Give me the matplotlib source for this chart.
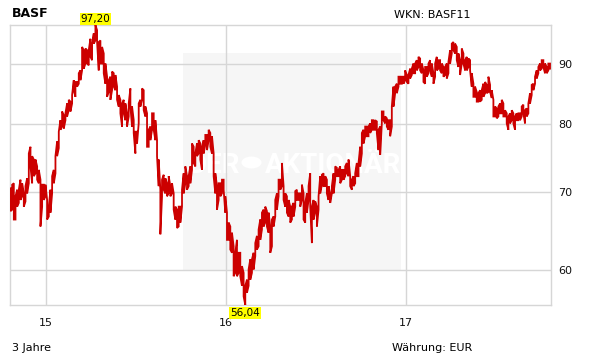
import matplotlib
matplotlib.use("Agg")
import matplotlib.pyplot as plt
from matplotlib.ticker import FixedLocator, FixedFormatter, NullLocator
from matplotlib.patches import Rectangle, Circle
import pandas as pd

# ---------------- data ----------------
title = "BASF"
wkn = "WKN: BASF11"
period_label = "3 Jahre"
currency_label = "Währung: EUR"
start_date = "2014-10-21"
end_date = "2017-10-21"

year_ticks = ["2015-01-01", "2016-01-01", "2017-01-01"]
year_labels = ["15", "16", "17"]
price_ticks = [60, 70, 80, 90]
price_labels = ["60", "70", "80", "90"]

high = [
    70.5, 71.0, 71.2, 69.4, 70.3, 70.3, 71.7, 71.2, 69.8, 70.8,
    71.9, 75.5, 76.5, 75.1, 74.6, 74.6, 73.6, 73.1, 71.7, 71.0,
    71.0, 71.0, 68.9, 68.0, 70.3, 72.2, 73.1, 75.1, 77.3, 78.8,
    80.6, 82.0, 81.4, 81.7, 83.3, 83.9, 83.6, 84.7, 87.2, 86.9,
    86.9, 88.4, 88.9, 93.1, 92.5, 92.8, 92.5, 92.5, 94.6, 93.7,
    95.6, 97.2, 96.2, 94.0,
    94.3, 93.1, 91.9, 90.1, 87.8, 87.2, 87.8, 88.7, 88.4, 88.1,
    86.1, 84.7, 83.9, 83.3, 83.9, 83.3, 81.7, 83.3, 85.8, 82.8,
    80.6, 78.8, 78.8, 83.3, 83.9, 85.8, 85.5, 82.8, 81.7, 79.1,
    79.6, 81.7, 81.7, 80.6, 77.5, 74.6, 70.3, 71.7, 72.4, 71.9,
    71.2, 72.2, 70.8, 71.2, 69.8, 68.0, 67.6, 68.0, 68.0, 70.3,
    72.6, 73.6, 72.2, 72.2, 73.6, 77.0, 76.5, 75.5, 77.0, 77.5,
    77.0, 76.5, 77.5, 78.3, 78.3, 79.1, 78.6, 78.1, 75.5, 72.6,
    70.8, 71.2, 71.2, 71.7, 71.7, 69.4, 67.2, 65.9, 65.4, 64.6,
    62.9, 62.1, 63.7, 62.1, 62.1, 60.5, 59.7, 58.2, 58.9, 60.1,
    61.3, 61.3, 62.1, 63.3, 64.2, 65.0, 66.3, 67.2, 67.6, 68.0,
    67.4, 67.2, 65.4, 66.3, 66.7, 68.9, 69.8, 71.7, 71.7, 74.1,
    70.8, 69.8, 69.4, 68.9,
    68.0, 68.0, 68.5, 70.1, 70.3, 69.8, 69.8, 71.0, 69.8, 68.5,
    69.8, 70.8, 72.6, 68.0, 68.9, 68.7, 68.0, 69.4, 72.2, 72.4,
    72.6, 72.2, 71.7, 70.8, 69.8, 70.8, 72.6, 73.6, 73.4, 73.1,
    73.6, 73.1, 73.1, 73.6, 74.1, 74.6, 72.2, 71.7, 72.2, 72.6,
    74.1, 74.1, 76.5, 78.6, 79.1, 79.6, 79.6, 79.6, 80.1, 80.6,
    80.6, 80.6, 80.4, 79.1,
    79.6, 82.0, 82.0, 81.2, 80.9, 80.6, 80.6, 82.8, 86.1, 86.1,
    86.6, 87.8, 87.8, 87.8, 87.8, 88.9, 88.1, 88.1, 89.2, 89.2,
    90.1, 90.1, 90.7, 91.3, 91.0, 90.1, 88.9, 89.5, 89.5, 90.1,
    90.7, 90.1, 88.4, 90.1, 91.3, 90.7, 90.7, 90.1, 89.5, 89.5,
    90.1, 90.4, 92.5, 93.7, 94.0, 93.7, 93.1, 91.9, 90.7,
    92.8, 91.9, 90.7, 91.3, 91.0, 90.7, 88.4, 86.6, 86.1, 85.2,
    85.0, 85.5, 85.5, 86.6, 86.9, 86.4, 87.8, 86.4, 85.5, 83.9,
    82.8, 82.5, 82.8, 83.3, 83.9, 83.3, 82.2, 81.7, 81.2, 81.7,
    82.2, 81.7, 81.2, 81.7, 81.7, 81.7, 82.8, 83.1, 82.2, 82.5,
    83.3, 85.0, 86.4, 86.6, 87.8, 88.9, 89.5, 90.1, 90.7, 90.7,
    90.1, 89.5, 90.1, 90.1,
]

low = [
    67.4, 67.6, 66.3, 66.3, 68.0, 68.5, 68.9, 69.4, 68.0, 68.7,
    69.8, 71.2, 73.6, 71.2, 72.2, 72.6, 71.7, 71.2, 65.4, 68.0,
    68.9, 69.4, 66.3, 66.7, 67.2, 69.8, 71.2, 72.6, 75.1, 76.3,
    79.1, 79.6, 79.3, 80.6, 81.2, 82.2, 82.0, 83.3, 85.5, 84.4,
    86.1, 86.6, 87.2, 88.9, 89.2, 90.1, 90.1, 89.8, 91.3, 90.7,
    93.7, 94.3, 94.0, 88.9,
    90.1, 90.1, 88.4, 86.6, 84.4, 85.2, 83.9, 85.5, 86.1, 85.5,
    83.9, 82.8, 81.7, 79.6, 81.7, 80.6, 79.6, 81.2, 82.8, 79.6,
    78.6, 75.5, 77.0, 80.1, 82.8, 83.9, 82.2, 81.2, 76.5, 76.5,
    77.5, 79.1, 79.1, 77.5, 75.1, 70.8, 64.4, 69.4, 70.3, 69.8,
    69.4, 69.8, 69.4, 69.8, 67.6, 66.3, 65.2, 65.4, 65.9, 68.0,
    69.8, 71.2, 70.3, 70.8, 71.2, 73.1, 74.1, 73.6, 75.1, 75.5,
    74.6, 73.1, 75.5, 76.8, 76.0, 77.5, 76.5, 75.5, 72.2, 69.8,
    67.6, 68.9, 69.4, 69.8, 70.3, 67.2, 63.7, 63.7, 62.5, 62.1,
    59.3, 59.7, 59.3, 59.7, 59.3, 58.2, 57.0, 56.04, 57.4, 58.2,
    58.9, 59.7, 60.1, 61.7, 62.5, 62.9, 63.7, 65.0, 65.4, 65.9,
    65.4, 64.6, 62.1, 62.9, 65.4, 66.7, 67.6, 69.4, 70.3, 70.8,
    68.9, 68.0, 67.2, 66.7,
    65.9, 66.3, 66.7, 68.0, 68.9, 68.9, 68.0, 68.9, 66.3, 65.9,
    67.2, 68.9, 68.0, 63.3, 66.3, 67.2, 65.4, 67.6, 69.8, 71.0,
    70.8, 70.8, 69.8, 68.9, 68.5, 69.8, 69.8, 71.7, 72.2, 72.2,
    71.2, 71.7, 71.7, 72.2, 72.6, 72.2, 70.8, 70.3, 70.8, 71.2,
    72.2, 72.2, 73.6, 75.5, 77.0, 78.1, 78.1, 78.1, 78.6, 79.1,
    79.1, 79.1, 78.6, 76.0,
    75.3, 80.1, 80.6, 80.1, 79.6, 79.1, 78.1, 79.6, 82.8, 85.0,
    85.0, 86.1, 86.6, 86.6, 86.6, 87.2, 86.9, 86.6, 87.5, 88.1,
    88.4, 88.4, 88.9, 89.5, 88.9, 88.4, 86.9, 86.6, 87.8, 88.4,
    88.9, 87.8, 86.6, 87.8, 88.9, 89.2, 88.9, 88.4, 87.8, 88.1,
    87.5, 88.4, 90.1, 91.9, 92.5, 91.9, 90.7, 89.5, 88.1,
    90.1, 90.1, 88.9, 88.9, 89.5, 88.9, 86.1, 84.4, 84.4, 83.6,
    83.6, 83.6, 83.9, 84.4, 85.0, 85.0, 85.2, 85.2, 84.2, 81.2,
    81.2, 80.9, 81.2, 81.7, 81.7, 81.2, 81.2, 80.1, 79.1, 80.1,
    80.6, 80.1, 79.1, 80.6, 80.6, 80.6, 81.2, 81.7, 80.1, 81.2,
    81.7, 83.3, 84.7, 85.5, 86.6, 87.5, 88.4, 88.9, 89.2, 89.5,
    88.4, 88.4, 88.9, 89.2,
]

# ---------------- build series ----------------
dates = pd.date_range(start_date, end_date, periods=len(high))
xs, ys = [], []
for i, (d, h, l) in enumerate(zip(dates, high, low)):
    xs += [d, d]
    ys += [h, l] if i % 2 == 0 else [l, h]

peak_i = max(range(len(high)), key=lambda k: high[k])
low_i = min(range(len(low)), key=lambda k: low[k])
peak_val = high[peak_i]
min_val = low[low_i]

# ---------------- figure ----------------
W, H = 611, 364
fig = plt.figure(figsize=(W / 100, H / 100), dpi=100)
fig.patch.set_facecolor("white")

def fx(px):
    return px / W

def fy(py):
    return 1 - py / H

L, R, T, B = 10, 551, 25, 305
ax = fig.add_axes([fx(L), fy(B), (R - L) / W, (B - T) / H])
ax.set_facecolor("none")

grid_c = "#d6d6d6"
ax.set_yscale("log")
ax.set_ylim(min_val, peak_val)
ax.set_xlim(dates[0] - pd.Timedelta(days=1), dates[-1] + pd.Timedelta(days=2))

# watermark background
wm = Rectangle((fx(183), fy(270)), (401 - 183) / W, (270 - 53) / H,
               transform=fig.transFigure, facecolor="#f6f6f6",
               edgecolor="none", zorder=0.1)
ax.add_patch(wm)
wm_font = ["Liberation Sans Narrow", "Roboto", "DejaVu Sans"]
ax.text(fx(240), fy(173), "DER", transform=fig.transFigure, ha="right",
        va="baseline", color="white", fontsize=20, fontweight="bold",
        family=wm_font, zorder=0.3)
ax.text(fx(265), fy(173), "AKTIONÄR", transform=fig.transFigure, ha="left",
        va="baseline", color="white", fontsize=20, fontweight="bold",
        family=wm_font, zorder=0.3)
ax.add_patch(Circle((fx(251.5), fy(162.5)), 10 / W, transform=fig.transFigure,
                    facecolor="white", edgecolor="none", zorder=0.3))

# grid and ticks
ax.set_axisbelow(True)
ax.yaxis.set_major_locator(FixedLocator(price_ticks))
ax.yaxis.set_major_formatter(FixedFormatter(price_labels))
ax.yaxis.set_minor_locator(NullLocator())
epoch = pd.Timestamp("1970-01-01").toordinal()
ax.xaxis.set_major_locator(FixedLocator([pd.Timestamp(t).toordinal() - epoch for t in year_ticks]))
ax.xaxis.set_major_formatter(FixedFormatter(year_labels))
ax.xaxis.set_minor_locator(NullLocator())
ax.grid(True, color=grid_c, linewidth=1.0, zorder=0.5)

ax.yaxis.tick_right()
ax.tick_params(axis="y", length=0, pad=5, labelsize=8, labelcolor="#111111")
ax.tick_params(axis="x", length=0, pad=9, labelsize=8, labelcolor="#111111")
for s in ax.spines.values():
    s.set_color(grid_c)
    s.set_linewidth(1.0)

# price line
ax.plot(xs, ys, color="#cc0000", linewidth=1.3, solid_joinstyle="miter", zorder=3)

# extreme labels
ax.annotate(f"{peak_val:.2f}".replace(".", ","), xy=(dates[peak_i], 1.0),
            xycoords=("data", "axes fraction"), xytext=(0, 1),
            textcoords="offset points", ha="center", va="bottom", fontsize=7.5,
            bbox=dict(boxstyle="square,pad=0.1", facecolor="#ffff00", edgecolor="none"),
            zorder=5, annotation_clip=False)
ax.annotate(f"{min_val:.2f}".replace(".", ","), xy=(dates[low_i], 0.0),
            xycoords=("data", "axes fraction"), xytext=(0, -2),
            textcoords="offset points", ha="center", va="top", fontsize=7.5,
            bbox=dict(boxstyle="square,pad=0.1", facecolor="#ffff00", edgecolor="none"),
            zorder=5, annotation_clip=False)

# header / footer text
fig.text(fx(12), fy(17.3), title, fontsize=9, fontweight="bold", va="baseline", ha="left")
fig.text(fx(394), fy(18.3), wkn, fontsize=8, va="baseline", ha="left")
fig.text(fx(12), fy(351), period_label, fontsize=8, va="baseline", ha="left")
fig.text(fx(392), fy(351), currency_label, fontsize=8, va="baseline", ha="left")

fig.savefig("out.png", dpi=100)
